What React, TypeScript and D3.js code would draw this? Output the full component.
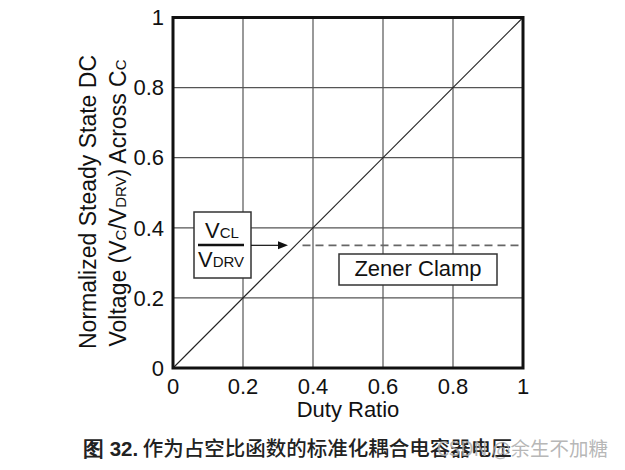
import React from "react";
import * as d3 from "d3";

const xTicks = [0, 0.2, 0.4, 0.6, 0.8, 1];
const yTicks = [0, 0.2, 0.4, 0.6, 0.8, 1];
const tickLabels = ["0", "0.2", "0.4", "0.6", "0.8", "1"];
const diagX = [0, 1];
const diagY = [0, 1];
const clampLevel = 0.35;
const clampStart = 0.37;
const clampEnd = 1;

const W = 625, H = 470;
const L = 173, R = 523, T = 17.5, B = 368;
const FONT = "'Liberation Sans', Arial, sans-serif";
const CJK = "'Noto Sans CJK SC', 'Liberation Sans', sans-serif";

export default function App() {
  const x = d3.scaleLinear().domain([0, 1]).range([L, R]);
  const y = d3.scaleLinear().domain([0, 1]).range([B, T]);
  const line = d3.line<number>().x((_, i) => x(diagX[i])).y((_, i) => y(diagY[i]));
  const cy = y(clampLevel);
  return (
    <svg width={W} height={H} style={{ position: "absolute", left: 0, top: 0, background: "#fff" }} fontFamily={FONT}>
      <rect x={0} y={0} width={W} height={H} fill="#fff" />
      {xTicks.slice(1, -1).map((t) => (
        <line key={"gx" + t} x1={x(t)} x2={x(t)} y1={T} y2={B} stroke="#555" strokeWidth={1.2} />
      ))}
      {yTicks.slice(1, -1).map((t) => (
        <line key={"gy" + t} x1={L} x2={R} y1={y(t)} y2={y(t)} stroke="#555" strokeWidth={1.2} />
      ))}
      <path d={line(diagX) || ""} stroke="#222" strokeWidth={1.1} fill="none" />
      <line x1={x(clampStart)} x2={x(clampEnd)} y1={cy} y2={cy} stroke="#666" strokeWidth={1.6} strokeDasharray="8,5" />
      <rect x={L} y={T} width={R - L} height={B - T} fill="none" stroke="#111" strokeWidth={3} />
      {yTicks.map((t, i) => (
        <text key={"yl" + t} x={164} y={y(t)} dy="0.35em" textAnchor="end" fontSize={22} fill="#111">{tickLabels[i]}</text>
      ))}
      {xTicks.map((t, i) => (
        <text key={"xl" + t} x={x(t)} y={386} dy="0.35em" textAnchor="middle" fontSize={22} fill="#111">{tickLabels[i]}</text>
      ))}
      <text x={x(0.5)} y={417} textAnchor="middle" fontSize={22} fill="#111">Duty Ratio</text>
      <g transform={`translate(96, ${202}) rotate(-90)`}>
        <text x={0} y={0} textAnchor="middle" fontSize={23} fill="#111">Normalized Steady State DC</text>
      </g>
      <g transform={`translate(126, ${203}) rotate(-90)`}>
        <text x={0} y={0} textAnchor="middle" fontSize={23} fill="#111">
          Voltage (V<tspan fontSize={15}>C</tspan>/V<tspan fontSize={15}>DRV</tspan>) Across C<tspan fontSize={15}>C</tspan>
        </text>
      </g>
      {/* VCL/VDRV box */}
      <rect x={194} y={212} width={57} height={66} fill="#fff" stroke="#333" strokeWidth={1.5} />
      <text x={222} y={238} textAnchor="middle" fontSize={22} fill="#111">V<tspan fontSize={15}>CL</tspan></text>
      <line x1={198} x2={244} y1={245} y2={245} stroke="#111" strokeWidth={2.5} />
      <text x={221} y={267} textAnchor="middle" fontSize={22} fill="#111">V<tspan fontSize={15}>DRV</tspan></text>
      <line x1={251} x2={280} y1={cy} y2={cy} stroke="#111" strokeWidth={1.2} />
      <path d={`M${288},${cy} L${278},${cy - 4} L${278},${cy + 4} Z`} fill="#111" />
      {/* Zener Clamp */}
      <rect x={339} y={254} width={158} height={31} fill="#fff" stroke="#333" strokeWidth={1.5} />
      <text x={418} y={276} textAnchor="middle" fontSize={22} fill="#111">Zener Clamp</text>
      {/* caption */}
      <text x={83} y={456} fontSize={20.5} fill="#222" fontFamily={CJK} fontWeight={500}>
        <tspan fontWeight="bold" fontFamily={FONT}>图 32.</tspan> 作为占空比函数的标准化耦合电容器电压
      </text>
      <text x={608} y={456} textAnchor="end" fontSize={19.5} fill="#aaa" fillOpacity={0.85} fontFamily={CJK}>CSDN @余生不加糖</text>
    </svg>
  );
}
